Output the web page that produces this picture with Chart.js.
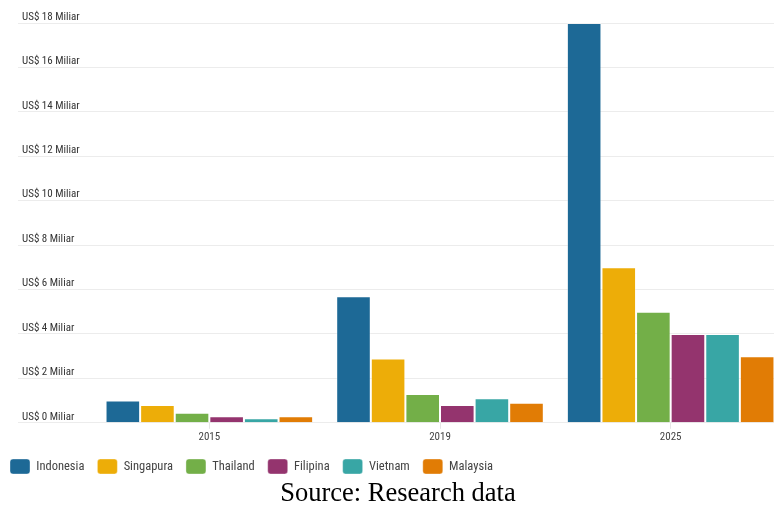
<!DOCTYPE html>
<html>
<head>
<meta charset="utf-8">
<script src="https://cdn.jsdelivr.net/npm/chart.js@4.4.1/dist/chart.umd.min.js"></script>
<style>
  html, body { margin: 0; padding: 0; background: #ffffff; overflow: hidden; width: 774px; height: 505px; }
  #wrap { position: absolute; left: 0; top: 0; width: 790px; height: 485px; }
  #source { position: absolute; left: 0; top: 477px; width: 796px; text-align: center;
            font-family: "Liberation Serif", "Times New Roman", serif; font-size: 26.5px; color: #000; line-height: 30px; }
</style>
</head>
<body>
<div id="wrap"><canvas id="c" width="790" height="485"></canvas></div>
<div id="source">Source: Research data</div>
<script>
const years = ["2015", "2019", "2025"];
const indonesia = [1.0, 5.7, 18];
const singapura = [0.8, 2.9, 7.0];
const thailand = [0.45, 1.3, 5.0];
const filipina = [0.3, 0.8, 4.0];
const vietnam = [0.2, 1.1, 4.0];
const malaysia = [0.3, 0.9, 3.0];
const seriesNames = ["Indonesia", "Singapura", "Thailand", "Filipina", "Vietnam", "Malaysia"];
const seriesColors = ["#1d6996", "#edad08", "#73af48", "#94346e", "#38a6a5", "#e17c05"];
const seriesValues = [indonesia, singapura, thailand, filipina, vietnam, malaysia];

const FONT = "'Roboto Condensed', 'Liberation Sans Narrow', Roboto, sans-serif";

const datasets = seriesNames.map((name, i) => ({
  label: name,
  data: seriesValues[i],
  backgroundColor: seriesColors[i],
  borderColor: "rgba(255,255,255,0.35)",
  borderWidth: 1,
  categoryPercentage: 0.9,
  barPercentage: 1.0
}));

new Chart(document.getElementById("c"), {
  type: "bar",
  data: { labels: years, datasets },
  options: {
    responsive: false,
    animation: false,
    layout: { padding: { left: -3, right: 4, top: 23, bottom: 1 } },
    plugins: {
      tooltip: { enabled: false },
      legend: {
        position: "bottom",
        align: "start",
        labels: {
          boxWidth: 20,
          boxHeight: 15,
          useBorderRadius: true,
          borderRadius: 3,
          padding: 13,
          color: "#444",
          font: { family: FONT, size: 12.5 }
        }
      }
    },
    scales: {
      x: {
        grid: { offset: false, drawOnChartArea: false, drawTicks: true, tickLength: 6, color: "#e6e6e6" },
        border: { display: false },
        ticks: { color: "#444", font: { family: FONT, size: 11 }, padding: 2 }
      },
      y: {
        min: 0,
        max: 18,
        afterFit: (scale) => { scale.width = 97; },
        grid: { color: "#ececec", lineWidth: 1, tickLength: 76, drawTicks: true },
        border: { display: false },
        ticks: {
          stepSize: 2,
          mirror: true,
          padding: -72,
          labelOffset: -6,
          color: "#333",
          font: { family: FONT, size: 11 },
          callback: (v) => "US$ " + v + " Miliar"
        }
      }
    }
  }
});
</script>
</body>
</html>
